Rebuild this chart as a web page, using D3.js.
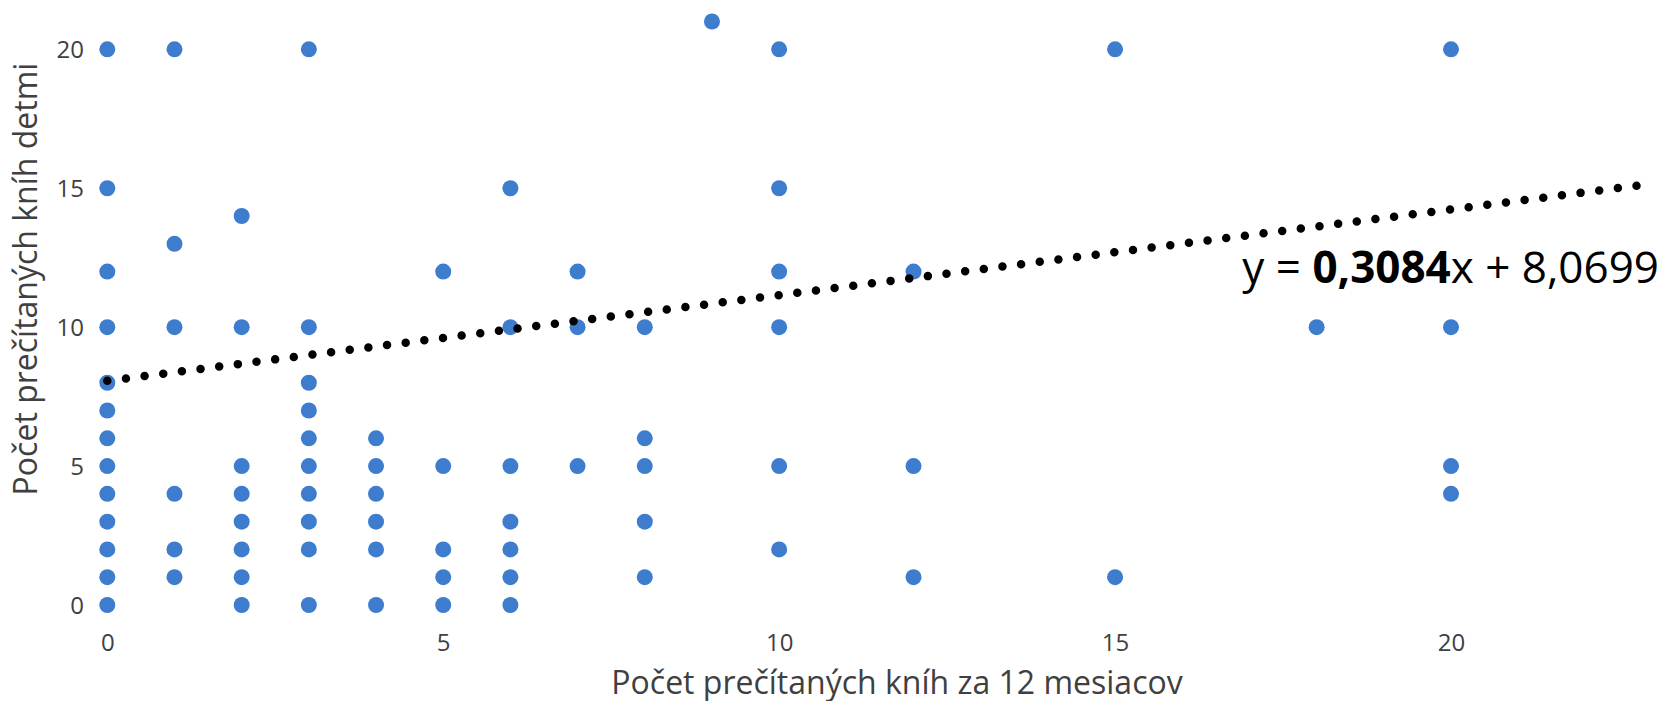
<!DOCTYPE html>
<html>
<head>
<meta charset="utf-8">
<script src="https://cdn.jsdelivr.net/npm/d3@7"></script>
<style>
  html, body { margin: 0; padding: 0; background: #fff; }
  svg { display: block; }
</style>
</head>
<body>
<svg id="chart" width="1664" height="701"></svg>
<script>
// Books read by the parent in the last 12 months (x) vs. books read by the children (y)
const pointsX = [
  0,0,0,0,0,0,0,0,0,0,0,0,0,
  1,1,1,1,1,1,
  2,2,2,2,2,2,2,2,
  3,3,3,3,3,3,3,3,3,3,
  4,4,4,4,4,4,
  5,5,5,5,5,
  6,6,6,6,6,6,6,
  7,7,7,
  8,8,8,8,8,
  9,
  10,10,10,10,10,10,
  12,12,12,
  15,15,
  18,
  20,20,20,20
];
const pointsY = [
  20,15,12,10,8,7,6,5,4,3,2,1,0,
  20,13,10,4,2,1,
  14,10,5,4,3,2,1,0,
  20,10,8,7,6,5,4,3,2,0,
  6,5,4,3,2,0,
  12,5,2,1,0,
  15,10,5,3,2,1,0,
  12,10,5,
  10,6,5,3,1,
  21,
  20,15,12,10,5,2,
  12,5,1,
  20,1,
  10,
  20,10,5,4
];

// Linear trendline as stated by the equation label
const trendSlope = 0.3084;
const trendIntercept = 8.0699;
const trendRange = [0, 23];

const xTicks = [0, 5, 10, 15, 20];
const yTicks = [0, 5, 10, 15, 20];

const xTitle = "Počet prečítaných kníh za 12 mesiacov";
const yTitle = "Počet prečítaných kníh detmi";

const svg = d3.select("#chart");
const font = "'Open Sans', 'Noto Sans', sans-serif";

const x = d3.scaleLinear().domain([0, 20]).range([107.3, 1451]);
const y = d3.scaleLinear().domain([0, 20]).range([605, 49.3]);

// Axes: labels only, no domain line or tick marks
const xAxis = svg.append("g")
  .attr("transform", "translate(0,632)")
  .call(d3.axisBottom(x).tickValues(xTicks).tickSize(0).tickPadding(0).tickFormat(d3.format("d")));
xAxis.select(".domain").remove();
xAxis.selectAll("text")
  .attr("dy", "0.78em")
  .style("font-family", font).style("font-size", "24px").attr("fill", "#404040");

const yAxis = svg.append("g")
  .attr("transform", "translate(84,0)")
  .call(d3.axisLeft(y).tickValues(yTicks).tickSize(0).tickPadding(0).tickFormat(d3.format("d")));
yAxis.select(".domain").remove();
yAxis.selectAll("text")
  .attr("dy", "0.35em")
  .style("font-family", font).style("font-size", "24px").attr("fill", "#404040");

// Scatter points
const pts = pointsX.map((v, i) => ({ x: v, y: pointsY[i] }));
svg.append("g")
  .selectAll("circle")
  .data(pts)
  .join("circle")
  .attr("cx", d => x(d.x))
  .attr("cy", d => y(d.y))
  .attr("r", 8)
  .attr("fill", "#3e7ccd");

// Dotted trendline
const trend = trendRange.map(v => ({ x: v, y: trendSlope * v + trendIntercept }));
svg.append("path")
  .datum(trend)
  .attr("d", d3.line().x(d => x(d.x)).y(d => y(d.y)))
  .attr("fill", "none")
  .attr("stroke", "#000")
  .attr("stroke-width", 8.5)
  .attr("stroke-linecap", "round")
  .attr("stroke-dasharray", "0 18.8");

// Trendline equation
const fmt = v => v.toFixed(4).replace(".", ",");
const eq = svg.append("text")
  .attr("x", 1659)
  .attr("y", 283)
  .attr("text-anchor", "end")
  .style("font-family", font)
  .style("font-size", "44px")
  .attr("fill", "#000");
eq.append("tspan").text("y = ");
eq.append("tspan").attr("font-weight", "bold").text(fmt(trendSlope));
eq.append("tspan").text("x + " + fmt(trendIntercept));

// Axis titles
svg.append("text")
  .attr("x", 897)
  .attr("y", 694)
  .attr("text-anchor", "middle")
  .style("font-family", font)
  .style("font-size", "32px")
  .attr("fill", "#404040")
  .text(xTitle);

svg.append("text")
  .attr("transform", "translate(37,279) rotate(-90)")
  .attr("text-anchor", "middle")
  .style("font-family", font)
  .style("font-size", "32px")
  .attr("fill", "#404040")
  .text(yTitle);
</script>
</body>
</html>
